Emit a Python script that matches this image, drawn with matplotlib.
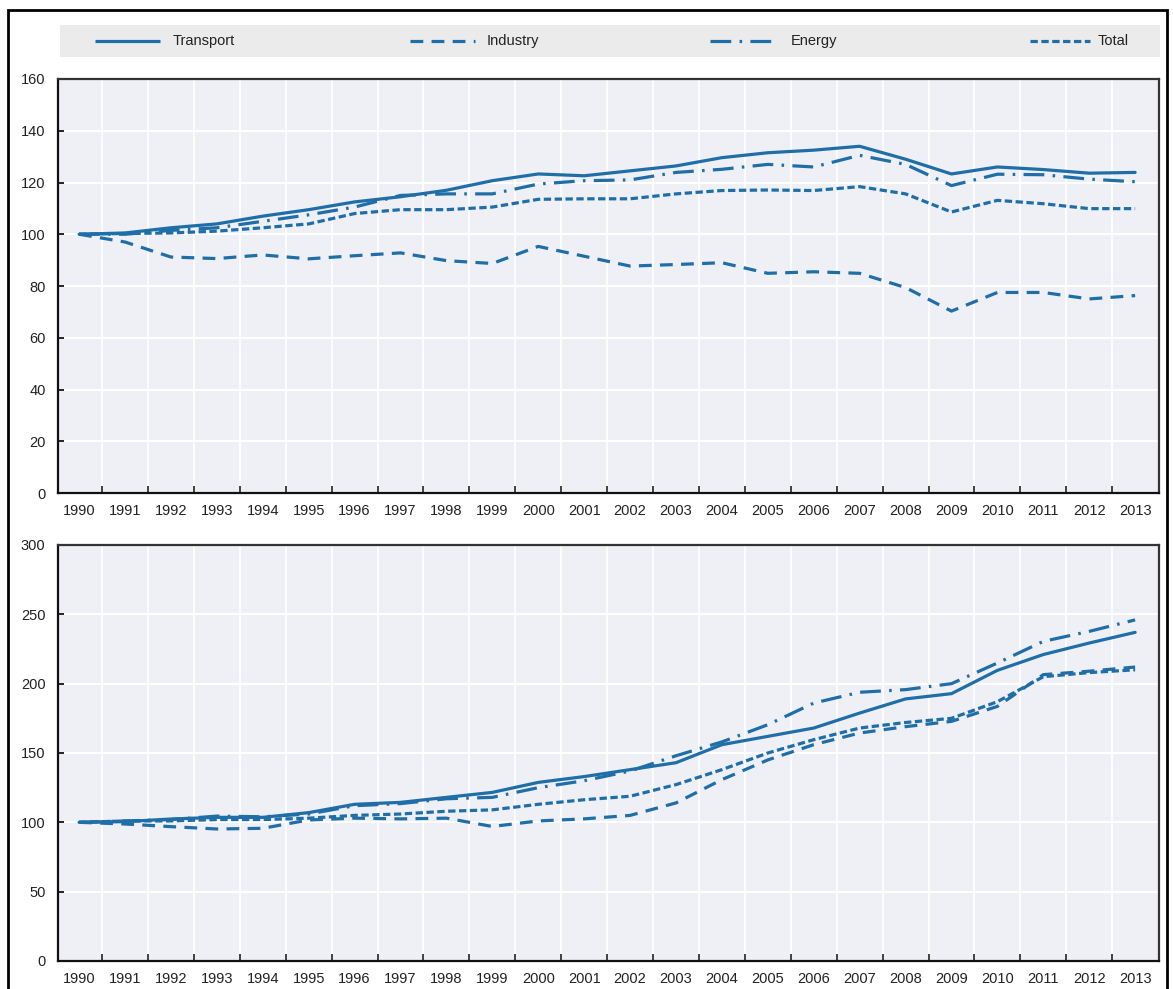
import matplotlib
matplotlib.use("Agg")
import matplotlib.pyplot as plt
import numpy as np
from matplotlib.patches import Rectangle

plt.rcParams['font.family'] = ['Liberation Sans', 'DejaVu Sans']

years = list(range(1990, 2014))

# top panel, index 1990 = 100
transport_a = [100, 100.5, 102.5, 104, 107, 109.5, 112.5, 114.5, 117, 120.7, 123.3, 122.6,
               124.5, 126.4, 129.6, 131.5, 132.5, 134, 129, 123.3, 126, 125, 123.6, 123.9]
industry_a = [100, 97, 91.2, 90.6, 92, 90.5, 91.7, 92.8, 89.8, 88.7, 95.3, 91.5,
              87.7, 88.3, 89, 84.9, 85.5, 84.9, 79.4, 70.3, 77.5, 77.5, 75, 76.3]
energy_a = [100, 100, 101.5, 102.5, 105, 107.5, 110.5, 115, 115.6, 115.6, 119.4, 120.7,
            121, 123.9, 125.1, 127, 126, 130.5, 127, 118.8, 123.2, 123, 121.3, 120.3]
total_a = [100, 100.3, 100.5, 101.2, 102.5, 104, 108, 109.5, 109.5, 110.5, 113.5, 113.7,
           113.7, 115.6, 116.9, 117.1, 116.9, 118.4, 115.6, 108.6, 113.1, 111.8, 109.9, 109.9]

# bottom panel, index 1990 = 100
transport_b = [100, 100.5, 102.4, 103.6, 103.6, 107, 113, 114.4, 118, 121.6, 128.8, 133,
               138, 143, 156, 162, 168, 178.8, 189, 192.8, 209.6, 221, 229.3, 237]
industry_b = [100, 98.8, 96.9, 95.2, 95.7, 101.7, 103, 102.5, 103, 97, 101, 102.5,
              105, 114, 130.8, 145, 156, 164.4, 169, 172.8, 183.6, 206.5, 209, 212]
energy_b = [100, 101, 102, 104.5, 104, 106, 112, 113.5, 117, 118, 125, 130,
            137, 148, 158, 170.4, 186, 193.8, 195.7, 200, 214.9, 230.5, 237.7, 246]
total_b = [100, 101, 101, 102, 102, 103, 105, 106, 108, 109, 113, 116.3,
           118.8, 127.2, 138, 150, 159.6, 168, 172, 175, 187, 205, 208, 210]

labels = ['Transport', 'Industry', 'Energy', 'Total']
blue = '#1f6ea8'
lw = 2.3
styles = {
    'Transport': '-',
    'Industry': (0, (4, 2.6)),
    'Energy': (0, (6.5, 2.6, 0.8, 2.6)),
    'Total': (0, (2.3, 1.1)),
}

W, H = 1173, 989
fig = plt.figure(figsize=(W / 100, H / 100), dpi=100)

# outer frame
fig.patches.append(Rectangle((8 / W, -0.01), (1167 - 8) / W, (H - 10) / H + 0.01,
                             transform=fig.transFigure, fill=False,
                             edgecolor='black', linewidth=2))

# legend band
band = fig.add_axes([60 / W, 1 - 57 / H, 1100 / W, 32 / H])
band.set_facecolor('#ebebeb')
band.set_xlim(0, 1)
band.set_ylim(0, 1)
band.set_xticks([])
band.set_yticks([])
for s in band.spines.values():
    s.set_visible(False)
handle_x = [(0.032, 0.091), (0.318, 0.377), (0.591, 0.650), (0.882, 0.936)]
text_x = [0.102, 0.388, 0.664, 0.943]
for name, (x0, x1), tx in zip(labels, handle_x, text_x):
    band.plot([x0, x1], [0.5, 0.5], color=blue, lw=lw, linestyle=styles[name],
              solid_capstyle='butt', dash_capstyle='butt')
    band.text(tx, 0.5, name, va='center', ha='left', fontsize=10.5, color='#222222')


def panel(rect, series, ymax, ystep):
    ax = fig.add_axes(rect)
    ax.set_facecolor('#eef0f5')
    x = np.arange(len(years))
    for name, vals in zip(labels, series):
        ax.plot(x, vals, color=blue, lw=lw, linestyle=styles[name],
                solid_capstyle='round', zorder=3)
    ax.set_xlim(-0.46, len(years) - 0.48)
    ax.set_ylim(0, ymax)
    ax.set_yticks(np.arange(0, ymax + 1, ystep))
    ax.set_xticks(x)
    ax.set_xticklabels([str(y) for y in years])
    ax.set_xticks(x[:-1] + 0.5, minor=True)
    ax.tick_params(axis='x', which='major', length=0, pad=8, labelsize=10.5, labelcolor='#222222')
    ax.tick_params(axis='x', which='minor', length=5, width=1.2, direction='in', color='#222222')
    ax.tick_params(axis='y', length=4, width=1.2, direction='in', pad=9,
                   labelsize=10.5, labelcolor='#222222')
    ax.grid(False)
    for v in ax.get_yticks()[1:-1]:
        ax.axhline(v, color='white', lw=1.5, zorder=1)
    for v in x[:-1] + 0.5:
        ax.axvline(v, color='white', lw=1.2, zorder=1)
    for s in ax.spines.values():
        s.set_color('#333333')
        s.set_linewidth(1.6)
    ax.spines['left'].set_color('#111111')
    ax.spines['bottom'].set_color('#111111')
    return ax


panel([58 / W, 1 - 493 / H, (1159 - 58) / W, (493 - 79) / H],
      [transport_a, industry_a, energy_a, total_a], 160, 20)
panel([58 / W, 1 - 961 / H, (1159 - 58) / W, (961 - 545) / H],
      [transport_b, industry_b, energy_b, total_b], 300, 50)

fig.savefig('out.png', dpi=100)
